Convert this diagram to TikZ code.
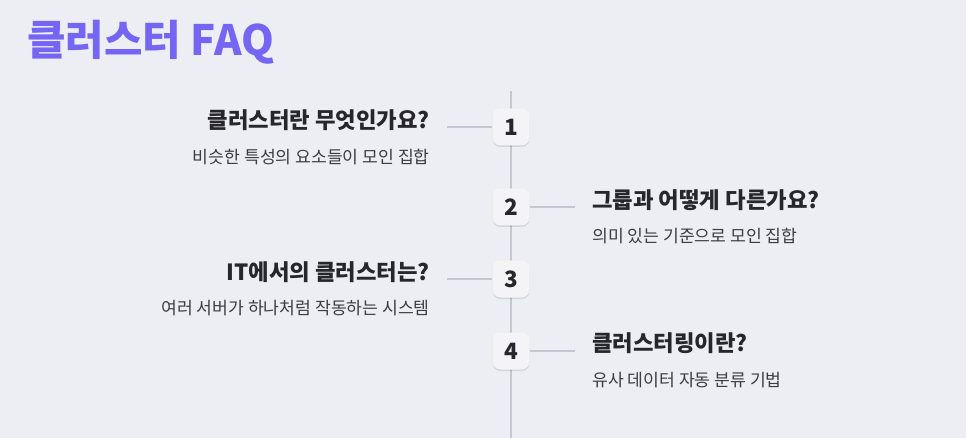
\documentclass[tikz,border=0pt]{standalone}
\usepackage{fontspec}
\setmainfont{Noto Sans CJK KR}
\usetikzlibrary{shadows}
\usetikzlibrary{calc}
\definecolor{bgcol}{HTML}{EDEEF3}
\definecolor{linecol}{HTML}{C6C6D3}
\definecolor{boxcol}{HTML}{F4F4F7}
\definecolor{inkcol}{HTML}{26262C}
\definecolor{subcol}{HTML}{3C3C42}
\definecolor{headcol}{HTML}{7466F3}
\tikzstyle{numbox}=[rectangle,rounded corners=8pt,fill=boxcol,minimum width=37pt,minimum height=37pt,inner sep=0pt,
  drop shadow={shadow xshift=0pt,shadow yshift=-1.5pt,fill=black,opacity=0.10},font=\fontsize{22.5}{24}\selectfont\bfseries,text=inkcol]
\tikzstyle{spine} = [draw,linecol,line width=2pt]
\tikzstyle{link} = [draw,linecol,line width=1.6pt]
\tikzstyle{question} = [font=\fontsize{22.3}{24}\selectfont\bfseries,text=inkcol,inner sep=0pt]
\tikzstyle{answer} = [font=\fontsize{17.2}{19}\selectfont,text=subcol,inner sep=0pt]

\begin{document}
\begin{tikzpicture}[x=1pt,y=-1pt]
    \fill[bgcol] (0,0) rectangle (966,438);
    \useasboundingbox (0,0) rectangle (966,438);

    \node[anchor=west,inner sep=0pt,text=headcol,font=\fontsize{41.8}{44}\selectfont\bfseries] (head) at (27,42) {클러스터 FAQ};

    \coordinate (top) at (511,91);
    \coordinate (bottom) at (511,438);
    \path[spine] (top) -- (bottom);

    % numbered boxes on the spine
    \foreach \pos/ \name in {{(511,127)/1}, {(511,207)/2}, {(511,279)/3}, {(511,351)/4}}
        \node[numbox] (\name) at \pos {\name};

    % connector ends
    \coordinate (e1) at (447,127);
    \coordinate (e2) at (575,207);
    \coordinate (e3) at (447,279);
    \coordinate (e4) at (575,351);
    \path[link] (1.west) -- (e1);
    \path[link] (2.east) -- (e2);
    \path[link] (3.west) -- (e3);
    \path[link] (4.east) -- (e4);

    % left side questions
    \node[question,anchor=east] (q1) at (430,120) {클러스터란 무엇인가요?};
    \node[answer,anchor=east] (a1) at (430,157) {비슷한 특성의 요소들이 모인 집합};
    \node[question,anchor=east] (q3) at (430,272) {IT에서의 클러스터는?};
    \node[answer,anchor=east] (a3) at (430,308) {여러 서버가 하나처럼 작동하는 시스템};

    % right side questions
    \node[question,anchor=west] (q2) at (592,200) {그룹과 어떻게 다른가요?};
    \node[answer,anchor=west] (a2) at (592,236) {의미 있는 기준으로 모인 집합};
    \node[question,anchor=west] (q4) at (592,343) {클러스터링이란?};
    \node[answer,anchor=west] (a4) at (592,380) {유사 데이터 자동 분류 기법};
\end{tikzpicture}
\end{document}
